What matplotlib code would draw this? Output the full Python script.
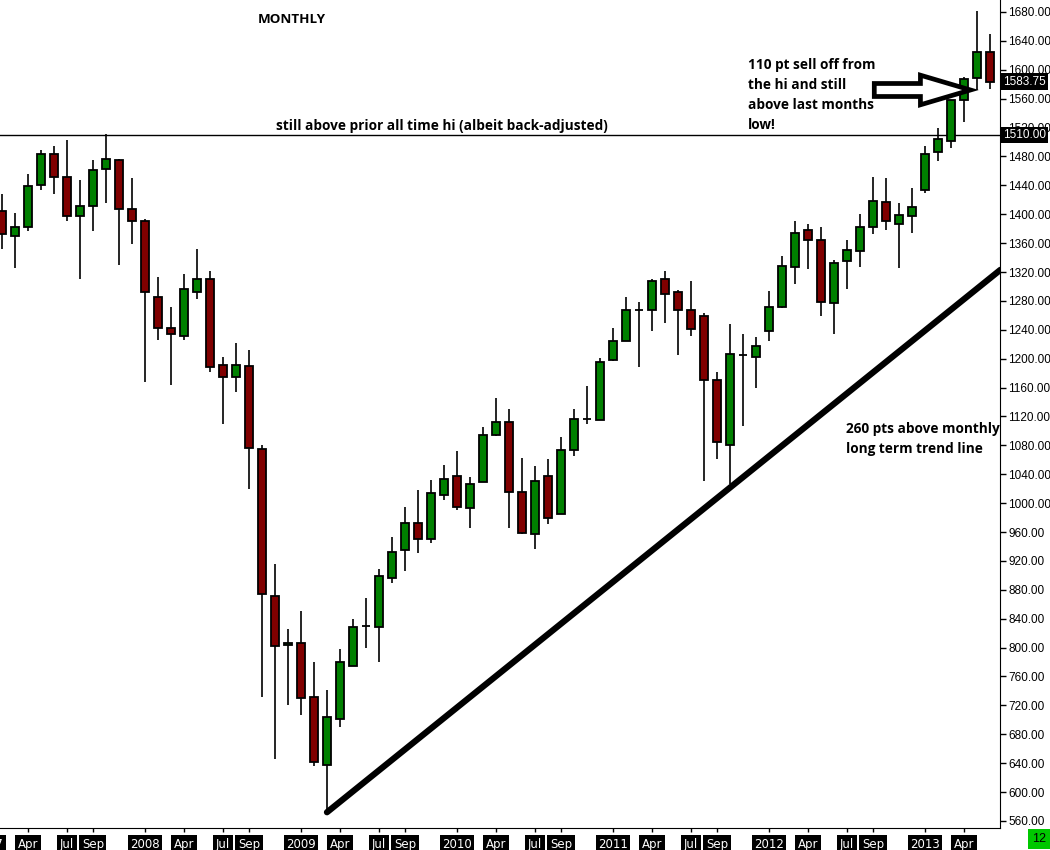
import matplotlib.pyplot as plt
from matplotlib.patches import FancyArrow

# monthly bars, Feb 2007 .. Jun 2013 (back-adjusted futures)
opens = [1405, 1370, 1382, 1440, 1483, 1451, 1398, 1412, 1463, 1475, 1407,
         1391, 1285, 1242, 1231, 1293, 1311, 1191, 1174, 1190, 1075, 872, 803,
         807, 731, 638, 701, 775, 830, 829, 897, 935, 972, 950, 1011,
         1037, 993, 1029, 1094, 1112, 1016, 957, 1037, 985, 1073, 1117, 1115,
         1198, 1224, 1268, 1268, 1310, 1292, 1267, 1259, 1170, 1081, 1205, 1202,
         1239, 1272, 1327, 1378, 1364, 1277, 1335, 1349, 1383, 1417, 1386, 1397,
         1433, 1486, 1502, 1558, 1588, 1624]
highs = [1428, 1402, 1456, 1489, 1495, 1503, 1447, 1475, 1511, 1477, 1450,
         1394, 1313, 1272, 1317, 1352, 1321, 1203, 1222, 1212, 1080, 916, 826,
         851, 780, 741, 798, 840, 869, 909, 953, 995, 1018, 1032, 1053,
         1072, 1036, 1105, 1145, 1130, 1062, 1051, 1061, 1091, 1130, 1162, 1201,
         1242, 1285, 1278, 1311, 1321, 1295, 1307, 1263, 1181, 1248, 1234, 1230,
         1294, 1342, 1390, 1387, 1382, 1336, 1364, 1401, 1451, 1450, 1415, 1436,
         1495, 1520, 1558, 1590, 1681, 1650]
lows = [1352, 1326, 1377, 1434, 1428, 1391, 1311, 1377, 1416, 1330, 1359,
        1168, 1226, 1164, 1226, 1282, 1182, 1110, 1154, 1020, 732, 646, 720,
        706, 636, 575, 690, 774, 800, 780, 890, 906, 931, 945, 1005,
        991, 965, 1029, 1093, 966, 957, 936, 971, 985, 1065, 1109, 1115,
        1197, 1224, 1189, 1239, 1250, 1205, 1232, 1030, 1061, 1026, 1107, 1160,
        1225, 1270, 1304, 1324, 1259, 1234, 1297, 1327, 1372, 1378, 1325, 1374,
        1429, 1473, 1491, 1527, 1572, 1573]
closes = [1372, 1382, 1439, 1483, 1451, 1397, 1412, 1461, 1477, 1407, 1390,
          1292, 1243, 1234, 1296, 1311, 1189, 1174, 1191, 1076, 874, 802, 807,
          730, 641, 704, 780, 828, 830, 899, 933, 972, 951, 1014, 1034,
          994, 1026, 1094, 1112, 1016, 958, 1030, 980, 1073, 1117, 1117, 1195,
          1224, 1268, 1268, 1307, 1290, 1268, 1241, 1170, 1084, 1207, 1205, 1217,
          1272, 1329, 1374, 1364, 1279, 1333, 1351, 1382, 1418, 1390, 1399, 1410,
          1483, 1504, 1558, 1587, 1624, 1583.75]

# bottom axis labels (month index from Feb 2007)
tick_pos = [2, 5, 7, 11, 14, 17, 19, 23, 26, 29, 31, 35, 38, 41, 43,
            47, 50, 53, 55, 59, 62, 65, 67, 71, 74]
tick_txt = ['Apr', 'Jul', 'Sep', '2008', 'Apr', 'Jul', 'Sep', '2009', 'Apr', 'Jul', 'Sep',
            '2010', 'Apr', 'Jul', 'Sep', '2011', 'Apr', 'Jul', 'Sep', '2012', 'Apr', 'Jul',
            'Sep', '2013', 'Apr']
price_ticks = list(range(560, 1681, 40))

prior_high = 1510
last_price = 1583.75
trend_x = [25, 76.8]
trend_y = [572, 1323]

GREEN = '#008000'
RED = '#800000'
txt_font = ['Open Sans', 'DejaVu Sans']

fig = plt.figure(figsize=(10.5, 8.5), dpi=100)
ax = fig.add_axes([0, 22 / 850, 1000 / 1050, 828 / 850])

x = list(range(len(opens)))
ax.vlines(x, lows, highs, color='black', lw=1.2, zorder=2)
bottoms = [min(o, c) for o, c in zip(opens, closes)]
heights = [abs(c - o) for o, c in zip(opens, closes)]
colors = [GREEN if c >= o else RED for o, c in zip(opens, closes)]
ax.bar(x, heights, bottom=bottoms, width=0.68, color=colors,
       edgecolor='black', linewidth=1.3, zorder=3)

ax.axhline(prior_high, color='black', lw=1, zorder=1)
ax.plot(trend_x, trend_y, color='black', lw=4.5, solid_capstyle='round', zorder=4)

ax.set_xlim(-0.15, 76.77)
ax.set_ylim(550.2, 1696.6)

ax.spines['top'].set_visible(False)
ax.spines['left'].set_visible(False)
ax.yaxis.tick_right()
ax.set_yticks(price_ticks)
ax.set_yticklabels(['%.2f' % p for p in price_ticks])
ax.tick_params(axis='y', length=4, width=1, pad=2, labelsize=8.5, labelcolor='black')
for lab in ax.get_yticklabels():
    lab.set_fontfamily(['Liberation Sans', 'DejaVu Sans'])

ax.set_xticks(tick_pos)
ax.set_xticklabels(tick_txt)
ax.tick_params(axis='x', length=3, width=1, pad=4, labelsize=8.5, labelcolor='white')
for lab in ax.get_xticklabels():
    lab.set_fontfamily(['Liberation Sans Narrow', 'DejaVu Sans'])
    lab.set_bbox(dict(facecolor='black', edgecolor='none', pad=1.8))

# cut-off 2007 label at the left edge
ax.text(-1.05, -0.0115, '2007', transform=ax.get_xaxis_transform(), ha='center', va='top',
        color='white', fontsize=8.5, family=['Liberation Sans Narrow', 'DejaVu Sans'],
        clip_on=False, bbox=dict(facecolor='black', edgecolor='none', pad=1.8))

# price flags on the right axis
for p, s in [(prior_high, '1510.00'), (last_price, '1583.75')]:
    ax.text(1.003, p, s, transform=ax.get_yaxis_transform(), ha='left', va='center',
            color='white', fontsize=8.5, family=['Liberation Sans', 'DejaVu Sans'],
            clip_on=False, zorder=6,
            bbox=dict(facecolor='black', edgecolor='none', pad=1.5))

# annotations
ax.text(19.7, 1669, 'MONTHLY', ha='left', va='center', fontsize=9.6,
        fontweight='bold', family=txt_font)
ax.text(21.1, 1522, 'still above prior all time hi (albeit back-adjusted)',
        ha='left', va='center', fontsize=9.8, fontweight='bold', family=txt_font)
ax.text(57.4, 1616, '110 pt sell off from\nthe hi and still\nabove last months\nlow!',
        ha='left', va='top', fontsize=9.8, fontweight='bold', family=txt_font,
        linespacing=1.55)
ax.text(64.9, 1113, '260 pts above monthly\nlong term trend line',
        ha='left', va='top', fontsize=9.8, fontweight='bold', family=txt_font,
        linespacing=1.55)

ax.add_patch(FancyArrow(67.1, 1572, 7.4, 0, width=18, head_width=41, head_length=3.85,
                        length_includes_head=True, facecolor='white', edgecolor='black',
                        lw=3.4, zorder=5))

fig.text(1039 / 1050, 11 / 850, '12', ha='center', va='center', fontsize=9,
         family=['Liberation Sans', 'DejaVu Sans'],
         bbox=dict(facecolor='#00c800', edgecolor='none', pad=2.8))

fig.savefig('out.png', dpi=100)
plt.close('all')
